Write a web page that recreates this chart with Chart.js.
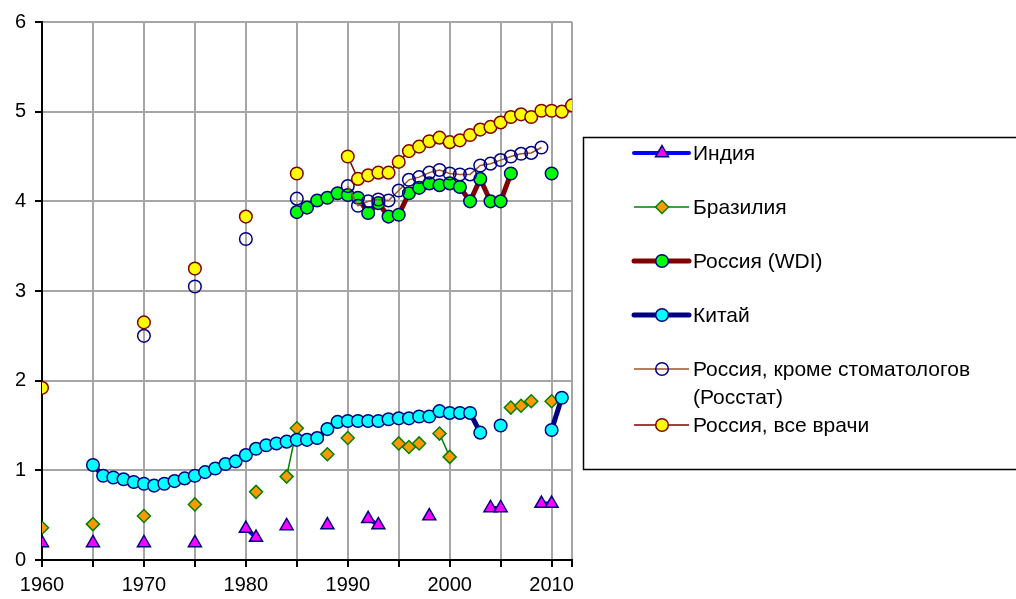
<!DOCTYPE html>
<html>
<head>
<meta charset="utf-8">
<script src="https://cdn.jsdelivr.net/npm/chart.js@4.4.0/dist/chart.umd.min.js"></script>
<style>
  body { margin: 0; background: #fff; }
  canvas { display: block; }
</style>
</head>
<body>
<canvas id="docChart" width="1016" height="599"></canvas>
<script>
// врачи на 1000 человек
const indiaYears = [1960, 1965, 1970, 1975, 1980, 1981, 1984, 1988, 1992, 1993, 1998, 2004, 2005, 2009, 2010];
const indiaVals  = [0.19, 0.19, 0.19, 0.19, 0.35, 0.25, 0.38, 0.39, 0.46, 0.39, 0.49, 0.58, 0.58, 0.63, 0.63];

const brazilYears = [1960, 1965, 1970, 1975, 1981, 1984, 1985, 1988, 1990, 1995, 1996, 1997, 1999, 2000, 2006, 2007, 2008, 2010];
const brazilVals  = [0.36, 0.40, 0.49, 0.62, 0.76, 0.93, 1.47, 1.18, 1.36, 1.30, 1.26, 1.30, 1.41, 1.15, 1.70, 1.72, 1.77, 1.77];

const wdiYears = [1985, 1986, 1987, 1988, 1989, 1990, 1991, 1992, 1993, 1994, 1995, 1996, 1997, 1998, 1999, 2000, 2001, 2002, 2003, 2004, 2005, 2006, 2010];
const wdiVals  = [3.88, 3.93, 4.01, 4.04, 4.09, 4.07, 4.04, 3.87, 3.98, 3.83, 3.85, 4.09, 4.15, 4.20, 4.18, 4.20, 4.16, 4.00, 4.25, 4.00, 4.00, 4.31, 4.31];

const chinaYears = [1965, 1966, 1967, 1968, 1969, 1970, 1971, 1972, 1973, 1974, 1975, 1976, 1977, 1978, 1979, 1980,
  1981, 1982, 1983, 1984, 1985, 1986, 1987, 1988, 1989, 1990, 1991, 1992, 1993, 1994, 1995, 1996, 1997, 1998, 1999,
  2000, 2001, 2002, 2003, 2005, 2010, 2011];
const chinaVals  = [1.06, 0.94, 0.92, 0.90, 0.87, 0.85, 0.83, 0.85, 0.88, 0.91, 0.94, 0.98, 1.02, 1.07, 1.10, 1.17,
  1.24, 1.28, 1.30, 1.32, 1.34, 1.34, 1.36, 1.46, 1.54, 1.55, 1.55, 1.55, 1.55, 1.57, 1.58, 1.58, 1.60, 1.60, 1.66,
  1.64, 1.64, 1.64, 1.42, 1.50, 1.45, 1.81];

const rosstatYears = [1970, 1975, 1980, 1985, 1990, 1991, 1992, 1993, 1994, 1995, 1996, 1997, 1998, 1999, 2000,
  2001, 2002, 2003, 2004, 2005, 2006, 2007, 2008, 2009];
const rosstatVals  = [2.50, 3.05, 3.58, 4.03, 4.17, 3.95, 4.00, 4.02, 4.01, 4.12, 4.24, 4.27, 4.32, 4.35, 4.31,
  4.30, 4.30, 4.40, 4.42, 4.46, 4.50, 4.53, 4.54, 4.60];

const allDocYears = [1960, 1970, 1975, 1980, 1985, 1990, 1991, 1992, 1993, 1994, 1995, 1996, 1997, 1998, 1999,
  2000, 2001, 2002, 2003, 2004, 2005, 2006, 2007, 2008, 2009, 2010, 2011, 2012];
const allDocVals  = [1.92, 2.65, 3.25, 3.83, 4.31, 4.50, 4.25, 4.29, 4.32, 4.32, 4.44, 4.56, 4.61, 4.67, 4.71,
  4.66, 4.68, 4.74, 4.80, 4.83, 4.88, 4.94, 4.97, 4.94, 5.01, 5.01, 5.00, 5.07];

const yTicks = [0, 1, 2, 3, 4, 5, 6];
const xTickYears = [1960, 1965, 1970, 1975, 1980, 1985, 1990, 1995, 2000, 2005, 2010, 2012];
const xLabelYears = [1960, 1970, 1980, 1990, 2000, 2010];

const FONT = '"Liberation Sans", Arial, sans-serif';

function pts(years, vals) {
  return years.map((y, i) => ({ x: y, y: vals[i] }));
}
// линия только между соседними годами, как в Excel
const noGap = { borderColor: c => (c.p1.parsed.x - c.p0.parsed.x > 1 ? 'transparent' : undefined) };

const series = [
  { label: 'Индия', data: pts(indiaYears, indiaVals), borderColor: '#0000ff', borderWidth: 4,
    pointStyle: 'triangle', pointRadius: 7.5, pointBackgroundColor: '#ff00ff', pointBorderColor: '#000080', pointBorderWidth: 1.5 },
  { label: 'Бразилия', data: pts(brazilYears, brazilVals), borderColor: '#008000', borderWidth: 1.5,
    pointStyle: 'rectRot', pointRadius: 6.5, pointBackgroundColor: '#ff9900', pointBorderColor: '#008000', pointBorderWidth: 1.5 },
  { label: 'Россия (WDI)', data: pts(wdiYears, wdiVals), borderColor: '#800000', borderWidth: 5,
    pointStyle: 'circle', pointRadius: 6.3, pointBackgroundColor: '#00ff00', pointBorderColor: '#000080', pointBorderWidth: 1.5 },
  { label: 'Китай', data: pts(chinaYears, chinaVals), borderColor: '#000080', borderWidth: 5,
    pointStyle: 'circle', pointRadius: 6.3, pointBackgroundColor: '#00ffff', pointBorderColor: '#000080', pointBorderWidth: 1.5 },
  { label: ['Россия, кроме стоматологов', '(Росстат)'], data: pts(rosstatYears, rosstatVals), borderColor: '#a0522d', borderWidth: 1.5,
    pointStyle: 'circle', pointRadius: 6.3, pointBackgroundColor: 'rgba(255,255,255,0)', pointBorderColor: '#000080', pointBorderWidth: 1.5 },
  { label: 'Россия, все врачи', data: pts(allDocYears, allDocVals), borderColor: '#800000', borderWidth: 1.5,
    pointStyle: 'circle', pointRadius: 6.3, pointBackgroundColor: '#ffff00', pointBorderColor: '#800000', pointBorderWidth: 1.5 }
];

const datasets = series.map((s, i) => Object.assign({}, s, {
  segment: noGap,
  spanGaps: false,
  fill: false,
  tension: 0,
  order: series.length - i
}));

// легенда в рамке справа
const boxLegend = {
  id: 'boxLegend',
  afterDraw(chart) {
    const ctx = chart.ctx;
    ctx.save();
    ctx.strokeStyle = '#000';
    ctx.lineWidth = 1.5;
    ctx.strokeRect(583.5, 137.5, 440, 332);
    const rows = [153, 207, 261, 315, 369, 425];
    ctx.font = '21px ' + FONT;
    ctx.textBaseline = 'middle';
    series.forEach((s, i) => {
      const y = rows[i];
      ctx.strokeStyle = s.borderColor;
      ctx.lineWidth = s.borderWidth;
      ctx.lineCap = s.borderWidth > 2 ? 'round' : 'butt';
      ctx.beginPath();
      ctx.moveTo(634, y);
      ctx.lineTo(689, y);
      ctx.stroke();
      ctx.fillStyle = s.pointBackgroundColor;
      ctx.strokeStyle = s.pointBorderColor;
      ctx.lineWidth = s.pointBorderWidth;
      Chart.helpers.drawPoint(ctx, { pointStyle: s.pointStyle, radius: s.pointRadius, rotation: 0, borderWidth: s.pointBorderWidth }, 662, y);
      ctx.fillStyle = '#000';
      const lines = Array.isArray(s.label) ? s.label : [s.label];
      lines.forEach((t, k) => ctx.fillText(t, 693, y + 1 + k * 28));
    });
    ctx.restore();
  }
};

new Chart(document.getElementById('docChart').getContext('2d'), {
  type: 'line',
  data: { datasets: datasets },
  plugins: [boxLegend],
  options: {
    responsive: false,
    animation: false,
    devicePixelRatio: 1,
    layout: { padding: { left: 0, top: 22, right: 444, bottom: 0 } },
    plugins: { legend: { display: false }, tooltip: { enabled: false } },
    scales: {
      x: {
        type: 'linear',
        min: 1960,
        max: 2012,
        afterFit: s => { s.height = 39; },
        afterBuildTicks: s => { s.ticks = xTickYears.map(v => ({ value: v })); },
        grid: { color: '#a6a6a6', lineWidth: 2, tickColor: '#000', tickLength: 7, tickWidth: 2 },
        border: { color: '#000', width: 2 },
        ticks: {
          autoSkip: false,
          maxRotation: 0,
          padding: 6,
          color: '#000',
          font: { family: FONT, size: 20 },
          callback: v => (xLabelYears.includes(v) ? String(v) : '')
        }
      },
      y: {
        min: yTicks[0],
        max: yTicks[yTicks.length - 1],
        afterFit: s => { s.width = 42; },
        afterBuildTicks: s => { s.ticks = yTicks.map(v => ({ value: v })); },
        grid: { color: '#a6a6a6', lineWidth: 2, tickColor: '#000', tickLength: 7, tickWidth: 2 },
        border: { color: '#000', width: 2 },
        ticks: {
          padding: 9,
          color: '#000',
          font: { family: FONT, size: 20 }
        }
      }
    }
  }
});
</script>
</body>
</html>
